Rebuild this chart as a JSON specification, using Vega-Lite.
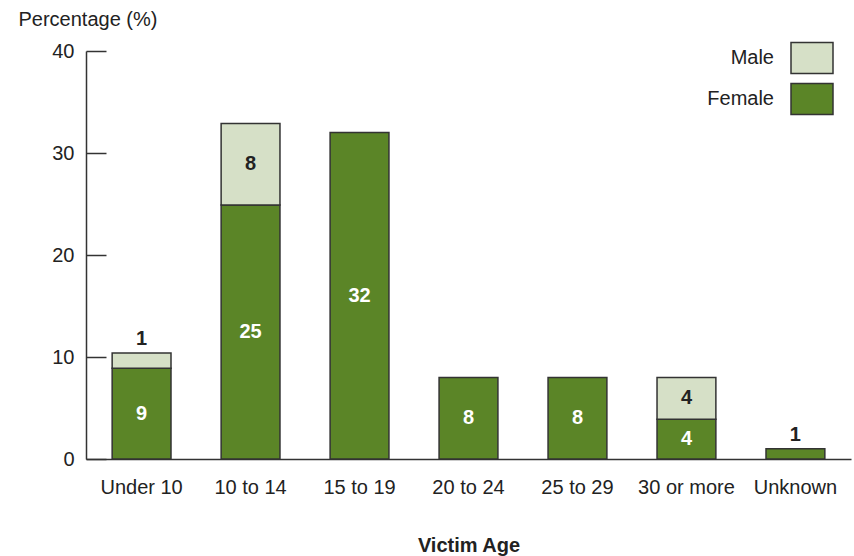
{
  "$schema": "https://vega.github.io/schema/vega-lite/v6.json",
  "width": 765,
  "height": 408,
  "autosize": "none",
  "padding": {"left": 86, "top": 51, "right": 3, "bottom": 97},
  "background": "white",
  "config": {
    "font": "Liberation Sans",
    "view": {"stroke": null},
    "axis": {"labelColor": "#222", "titleColor": "#222", "domainColor": "#333", "domainWidth": 1.5, "tickColor": "#333", "tickWidth": 1.5, "grid": false}
  },
  "data": {
    "values": [
      {"age": "Under 10", "sex": "Female", "value": 8.9, "label": "9"},
      {"age": "Under 10", "sex": "Male", "value": 1.5, "label": "1"},
      {"age": "10 to 14", "sex": "Female", "value": 24.9, "label": "25"},
      {"age": "10 to 14", "sex": "Male", "value": 8.0, "label": "8"},
      {"age": "15 to 19", "sex": "Female", "value": 32, "label": "32"},
      {"age": "20 to 24", "sex": "Female", "value": 8, "label": "8"},
      {"age": "25 to 29", "sex": "Female", "value": 8, "label": "8"},
      {"age": "30 or more", "sex": "Female", "value": 3.9, "label": "4"},
      {"age": "30 or more", "sex": "Male", "value": 4.1, "label": "4"},
      {"age": "Unknown", "sex": "Female", "value": 1, "label": "1"}
    ]
  },
  "encoding": {
    "x": {
      "field": "age", "type": "nominal", "sort": null,
      "scale": {"paddingInner": 0.46, "paddingOuter": 0.24},
      "axis": {"title": "Victim Age", "labelAngle": 0, "ticks": false, "labelFontSize": 20, "labelPadding": 18, "titleFontSize": 20, "titleFontWeight": "bold", "titlePadding": 38}
    }
  },
  "layer": [
    {
      "mark": {"type": "bar", "stroke": "#333", "strokeWidth": 1.5},
      "encoding": {
        "y": {
          "field": "value", "type": "quantitative", "stack": "zero",
          "scale": {"domain": [0, 40]},
          "axis": {"values": [0, 10, 20, 30, 40], "tickSize": -20, "labelPadding": 32, "labelFontSize": 20, "title": "Percentage (%)", "titleAngle": 0, "titleAlign": "left", "titleBaseline": "alphabetic", "titleX": -68, "titleY": -26, "titleFontSize": 20, "titleFontWeight": "normal"}
        },
        "color": {
          "field": "sex", "type": "nominal",
          "scale": {"domain": ["Male", "Female"], "range": ["#d6e0c7", "#5b8527"]},
          "legend": {"title": null, "orient": "none", "legendX": 704, "legendY": -15, "symbolType": "M-1,-0.74L1,-0.74L1,0.74L-1,0.74Z", "symbolSize": 1764, "symbolStrokeColor": "#333", "symbolStrokeWidth": 1.5, "symbolOpacity": 1, "labelAlign": "right", "labelOffset": -60, "labelFontSize": 20, "labelColor": "#222", "rowPadding": -2, "padding": 0}
        },
        "order": {"field": "sex", "sort": "ascending"}
      }
    },
    {
      "transform": [
        {"stack": "value", "groupby": ["age"], "sort": [{"field": "sex", "order": "ascending"}], "as": ["v0", "v1"]},
        {"filter": "datum.v1 - datum.v0 >= 2"},
        {"calculate": "(datum.v0 + datum.v1) / 2", "as": "mid"}
      ],
      "mark": {"type": "text", "fontSize": 20, "fontWeight": "bold", "baseline": "middle"},
      "encoding": {
        "y": {"field": "mid", "type": "quantitative"},
        "text": {"field": "label"},
        "color": {"condition": {"test": "datum.sex == 'Female'", "value": "white"}, "value": "#222"}
      }
    },
    {
      "transform": [
        {"stack": "value", "groupby": ["age"], "sort": [{"field": "sex", "order": "ascending"}], "as": ["v0", "v1"]},
        {"filter": "datum.v1 - datum.v0 < 2"}
      ],
      "mark": {"type": "text", "fontSize": 20, "fontWeight": "bold", "baseline": "middle", "dy": -14, "color": "#222"},
      "encoding": {
        "y": {"field": "v1", "type": "quantitative"},
        "text": {"field": "label"}
      }
    }
  ]
}
